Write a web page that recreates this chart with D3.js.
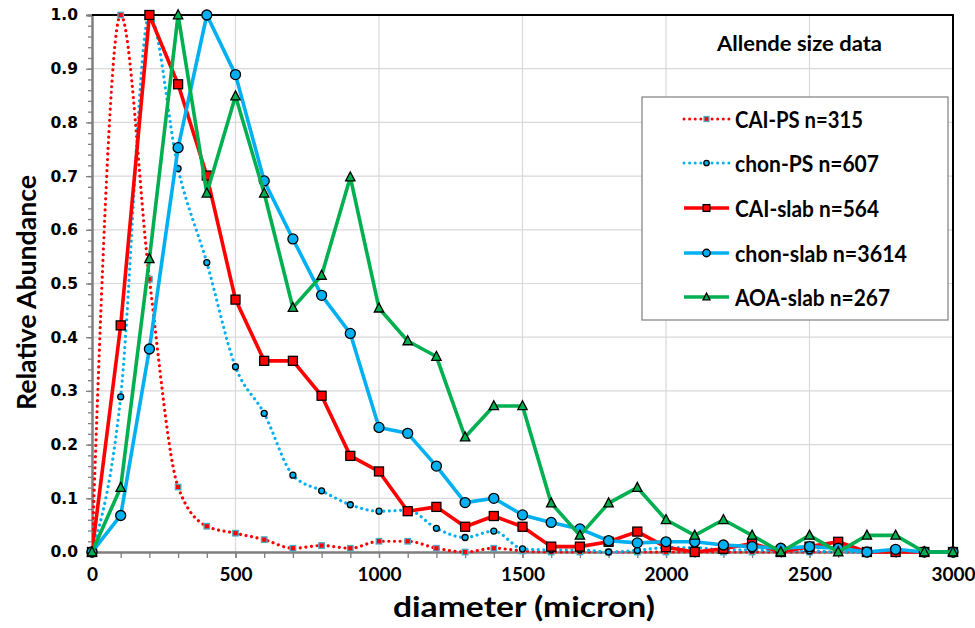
<!DOCTYPE html>
<html>
<head>
<meta charset="utf-8">
<script src="https://cdn.jsdelivr.net/npm/d3@7"></script>
<style>
  html, body { margin: 0; padding: 0; background: #fff; }
  svg { display: block; }
  text { font-family: Lato, "Open Sans", sans-serif; font-weight: bold; fill: #000; }
</style>
</head>
<body>
<svg id="chart" width="975" height="628"></svg>
<script>
// ---- data ----
const diameters = [0,100,200,300,400,500,600,700,800,900,1000,1100,1200,1300,1400,1500,
                   1600,1700,1800,1900,2000,2100,2200,2300,2400,2500,2600,2700,2800,2900,3000];
const caiPS   = [0,1.0,0.508,0.121,0.048,0.035,0.023,0.007,0.012,0.007,0.020,0.020,0.007,0.0,0.007,0.002,
                 0.0,0.0,0.0,0.0,0.0,0.0,0.0,0.0,0.0,0.0,0.0,0.0,0.0,0.0,0.0];
const chonPS  = [0,0.289,1.0,0.714,0.539,0.345,0.258,0.143,0.114,0.088,0.076,0.078,0.044,0.027,0.039,0.006,
                 0.004,0.004,0.0,0.003,0.008,0.008,0.004,0.004,0.002,0.002,0.0,0.0,0.0,0.0,0.0];
const caiSlab = [0,0.422,1.0,0.871,0.701,0.470,0.356,0.356,0.291,0.179,0.150,0.076,0.084,0.047,0.067,0.047,
                 0.010,0.010,0.019,0.038,0.009,0.0,0.006,0.016,0.0,0.010,0.019,0.0,0.0,0.0,0.0];
const chonSlab= [0,0.068,0.378,0.753,1.0,0.889,0.691,0.583,0.478,0.407,0.232,0.221,0.160,0.092,0.100,0.069,
                 0.055,0.043,0.021,0.017,0.019,0.019,0.013,0.010,0.007,0.010,0.007,0.0,0.005,0.0,0.0];
const aoaSlab = [0,0.120,0.546,1.0,0.668,0.849,0.668,0.455,0.515,0.698,0.454,0.393,0.364,0.214,0.272,0.272,
                 0.091,0.031,0.091,0.120,0.060,0.031,0.060,0.031,0.0,0.031,0.0,0.031,0.031,0.0,0.0];
const seriesNames = ["CAI-PS n=315","chon-PS n=607","CAI-slab n=564","chon-slab n=3614","AOA-slab n=267"];
const yTicks = [0,0.1,0.2,0.3,0.4,0.5,0.6,0.7,0.8,0.9,1.0];
const xTicks = [0,500,1000,1500,2000,2500,3000];
const chartTitle = "Allende size data";
const xTitle = "diameter (micron)";
const yTitle = "Relative Abundance";

// ---- layout / styling (not data) ----
const legendTextWidths = [128,144,144,172,155];
const series = [
  {values: caiPS,   color:"#FF0000", dotted:true,  marker:"square", size:5.5, mfill:"#FF0000", mstroke:"#4BACC6"},
  {values: chonPS,  color:"#00B0F0", dotted:true,  marker:"circle", size:6,   mfill:"#00B0F0", mstroke:"#000"},
  {values: caiSlab, color:"#FF0000", dotted:false, marker:"square", size:9,   mfill:"#FF0000", mstroke:"#000"},
  {values: chonSlab,color:"#00B0F0", dotted:false, marker:"circle", size:10,  mfill:"#00B0F0", mstroke:"#000"},
  {values: aoaSlab, color:"#00B050", dotted:false, marker:"triangle", size:9, mfill:"#00B050", mstroke:"#000"}
];
series.forEach((s,i)=>{ s.name = seriesNames[i]; });

const svg = d3.select("#chart");
const L = 92, R = 953, T = 15, B = 552;
const x = d3.scaleLinear().domain([0,3000]).range([L,R]);
const y = d3.scaleLinear().domain([0,1]).range([B,T]);

svg.append("defs").append("clipPath").attr("id","plotclip")
  .append("rect").attr("x",L).attr("y",T).attr("width",R-L).attr("height",B-T+3);

// gridlines
svg.append("g").selectAll("line").data(yTicks.slice(1,-1)).join("line")
  .attr("x1",L).attr("x2",R).attr("y1",d=>y(d)).attr("y2",d=>y(d))
  .attr("stroke","#D9D9D9").attr("stroke-width",1.2);
svg.append("g").selectAll("line").data(xTicks.slice(1,-1)).join("line")
  .attr("y1",T).attr("y2",B).attr("x1",d=>x(d)).attr("x2",d=>x(d))
  .attr("stroke","#D9D9D9").attr("stroke-width",1.2);

// axes
const yAxis = d3.axisLeft(y).tickValues(yTicks).tickFormat(d3.format(".1f")).tickSize(6).tickPadding(8);
const yMinor = d3.axisLeft(y).tickValues(d3.range(0,1.0001,0.02)).tickFormat("").tickSize(4);
const xAxis = d3.axisBottom(x).tickValues(xTicks).tickFormat(d3.format("d")).tickSize(6).tickPadding(10);
const xMinor = d3.axisBottom(x).tickValues(d3.range(0,3001,100)).tickFormat("").tickSize(6);

const gy2 = svg.append("g").attr("transform",`translate(${L},0)`).call(yMinor);
const gx2 = svg.append("g").attr("transform",`translate(0,${B})`).call(xMinor);
const gy = svg.append("g").attr("transform",`translate(${L},0)`).call(yAxis);
const gx = svg.append("g").attr("transform",`translate(0,${B})`).call(xAxis);
[gy,gx,gy2,gx2].forEach(g=>{
  g.selectAll(".domain").attr("stroke","#7F7F7F").attr("stroke-width",2);
  g.selectAll(".tick line").attr("stroke","#7F7F7F").attr("stroke-width",1.3);
});
gy.selectAll(".tick text").style("font-family","'DejaVu Sans', sans-serif").style("font-weight","bold").style("font-size","15.5px").attr("fill","#000");
gx.selectAll(".tick text").style("font-family","Lato, sans-serif").style("font-weight","bold").style("font-size","19px").attr("fill","#000");

// top and right frame
svg.append("path").attr("d",`M${L},${T}H${R}V${B}`).attr("fill","none").attr("stroke","#000").attr("stroke-width",2);

// marker drawing
function drawMarker(g, s, cx, cy){
  const h = s.size/2;
  if (s.marker==="square") {
    g.append("rect").attr("x",cx-h).attr("y",cy-h).attr("width",s.size).attr("height",s.size)
      .attr("fill",s.mfill).attr("stroke",s.mstroke).attr("stroke-width",1.3);
  } else if (s.marker==="circle") {
    g.append("circle").attr("cx",cx).attr("cy",cy).attr("r",h)
      .attr("fill",s.mfill).attr("stroke",s.mstroke).attr("stroke-width",1.3);
  } else {
    const a = s.size;
    g.append("path").attr("d",`M${cx},${cy-a*0.58}L${cx+a*0.52},${cy+a*0.42}L${cx-a*0.52},${cy+a*0.42}Z`)
      .attr("fill",s.mfill).attr("stroke",s.mstroke).attr("stroke-width",1.3);
  }
}

// series
const plot = svg.append("g");
series.forEach(s=>{
  const pts = diameters.map((d,i)=>[d, s.values[i]]);
  const line = d3.line().x(d=>x(d[0])).y(d=>y(d[1]))
    .curve(s.dotted ? d3.curveMonotoneX : d3.curveLinear);
  const g = plot.append("g");
  g.append("path").attr("d",line(pts)).attr("fill","none")
    .attr("clip-path","url(#plotclip)")
    .attr("stroke",s.color).attr("stroke-width", s.dotted ? 3.2 : 3.6)
    .attr("stroke-linecap", s.dotted ? "round" : "butt")
    .attr("stroke-linejoin","round")
    .attr("stroke-dasharray", s.dotted ? "0.01,5.6" : null);
  pts.forEach(p=>drawMarker(g, s, x(p[0]), y(p[1])));
});

// title
svg.append("text").attr("x",717).attr("y",42).attr("dominant-baseline","central")
  .attr("textLength",165).attr("lengthAdjust","spacingAndGlyphs")
  .style("font-size","21px").text(chartTitle);

// legend
const lg = svg.append("g");
lg.append("rect").attr("x",642).attr("y",97).attr("width",306).attr("height",223)
  .attr("fill","#fff").attr("stroke","#7F7F7F").attr("stroke-width",1.2);
const legY = [119,163,208,253,297];
series.forEach((s,i)=>{
  const yy = legY[i];
  lg.append("line").attr("x1",684).attr("x2",729).attr("y1",yy).attr("y2",yy)
    .attr("stroke",s.color).attr("stroke-width", s.dotted ? 3 : 3.4)
    .attr("stroke-linecap", s.dotted ? "round" : "butt")
    .attr("stroke-dasharray", s.dotted ? "0.01,5.6" : null);
  const ms = Object.assign({}, s, {size: s.dotted ? s.size*0.9 : s.size*0.75});
  drawMarker(lg, ms, 706.5, yy);
  lg.append("text").attr("x",735).attr("y",yy).attr("dominant-baseline","central")
    .attr("textLength",legendTextWidths[i]).attr("lengthAdjust","spacingAndGlyphs")
    .style("font-size","23px").text(s.name);
});

// axis titles
svg.append("text").attr("x",393).attr("y",606).attr("dominant-baseline","central")
  .attr("textLength",262).attr("lengthAdjust","spacingAndGlyphs")
  .style("font-size","28px").text(xTitle);
svg.append("text").attr("transform","translate(26,410) rotate(-90)")
  .attr("dominant-baseline","central")
  .attr("textLength",235).attr("lengthAdjust","spacingAndGlyphs")
  .style("font-size","26px").text(yTitle);
</script>
</body>
</html>
